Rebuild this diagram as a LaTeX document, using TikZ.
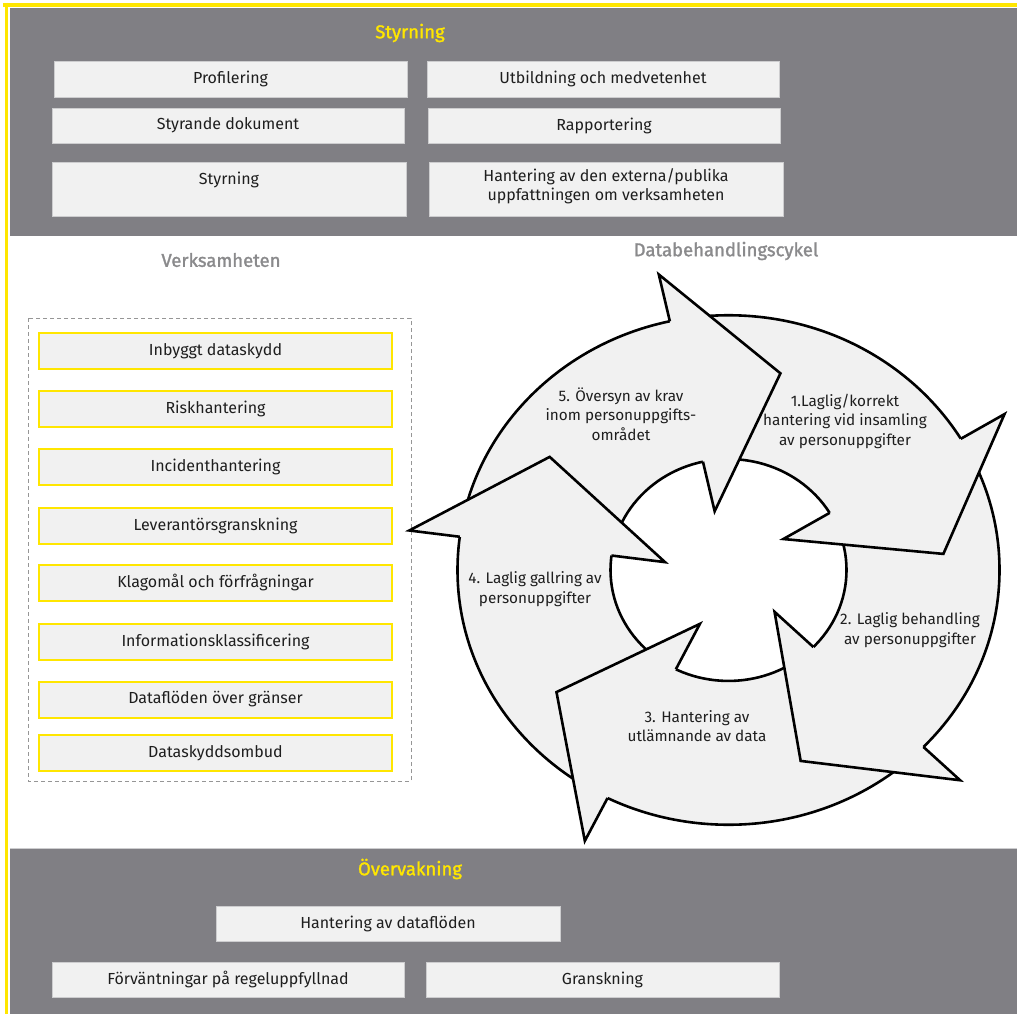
\documentclass[tikz,border=0pt]{standalone}
\usepackage{fontspec}
\setmainfont{Fira Sans}
\definecolor{bandgray}{RGB}{128,127,132}
\definecolor{boxfill}{RGB}{241,241,241}
\definecolor{boxborder}{RGB}{205,205,207}
\definecolor{eyyellow}{RGB}{255,230,0}
\definecolor{txt}{RGB}{30,30,30}
\definecolor{subtitle}{RGB}{138,138,140}
\definecolor{dashgray}{RGB}{150,150,150}
\begin{document}
\begin{tikzpicture}[x=1pt,y=-1pt,
  box/.style={draw=boxborder, line width=0.8pt, fill=boxfill, text=txt,
    font=\fontsize{16}{19}\selectfont, inner sep=0pt, minimum height=36pt},
  ybox/.style={draw=eyyellow, line width=2pt, fill=boxfill, text=txt,
    font=\fontsize{16}{19}\selectfont, inner sep=0pt, minimum width=353pt, minimum height=36pt},
  btext/.style={text=txt, font=\fontsize{16}{19}\selectfont, inner sep=0pt, align=center},
  ytitle/.style={text=eyyellow, font=\fontsize{18.5}{22}\selectfont\addfontfeatures{FakeBold=1.5}, inner sep=0pt},
  gtitle/.style={text=subtitle, font=\fontsize{18.5}{22}\selectfont\addfontfeatures{FakeBold=1.5}, inner sep=0pt},
  ctext/.style={text=txt, font=\fontsize{15.3}{19.5}\selectfont, inner sep=0pt, align=center},
  ringline/.style={draw=black, line width=2.6pt, line join=miter},
]
\useasboundingbox (0,0) rectangle (1017,1014);
\fill[white] (0,0) rectangle (1017,1014);
% bands
\fill[bandgray] (10,8) rectangle (1017,236);
\fill[bandgray] (10,848) rectangle (1017,1014);
\draw[boxborder, line width=0.8pt] (10,848.4) -- (1017,848.4);
% yellow frame
\draw[eyyellow, line width=4pt] (3,5) -- (1017,5);
\draw[eyyellow, line width=3.4pt] (6.4,3) -- (6.4,1014);

% Styrning
\node[ytitle] (tstyr) at (410,33) {Styrning};
\node[box, minimum width=353pt] (prof) at (230.5,79) {Profilering};
\node[box, minimum width=352pt, minimum height=35pt] (sdok) at (228,125.5) {Styrande dokument};
\node[box, minimum width=354pt, minimum height=54pt] (sbox) at (229,189) {};
\node[btext] (stxt) at (229,180) {Styrning};
\node[box, minimum width=352pt] (utb) at (603,79) {Utbildning och medvetenhet};
\node[box, minimum width=352pt, minimum height=35pt] (rapp) at (604,125.5) {Rapportering};
\node[box, minimum width=354pt, minimum height=54pt] (hbox) at (606,189) {};
\node[btext, font=\fontsize{16}{18.5}\selectfont] (htxt) at (606,186) {Hantering av den externa/publika\\uppfattningen om verksamheten};

% Verksamheten
\node[gtitle] (tverk) at (221,260) {Verksamheten};
\node[gtitle] (tcyk) at (726,251) {Databehandlingscykel};
\draw[dashgray, line width=0.9pt, dash pattern=on 4pt off 3pt] (28,318) rectangle (411,781);
\node[ybox] (v1) at (215.5,351) {Inbyggt dataskydd};
\node[ybox] (v2) at (215.5,409) {Riskhantering};
\node[ybox] (v3) at (215.5,467) {Incidenthantering};
\node[ybox] (v4) at (215.5,525.5) {Leverantörsgranskning};
\node[ybox] (v5) at (215.5,583) {Klagomål och förfrågningar};
\node[ybox] (v6) at (215.5,642) {Informationsklassificering};
\node[ybox] (v7) at (215.5,699.5) {Dataflöden över gränser};
\node[ybox] (v8) at (215.5,753) {Dataskyddsombud};

% cycle
\begin{scope}[shift={(728.5,570)}, yscale=-0.94]
  \fill[boxfill, even odd rule] (0,0) circle (271) (0,0) circle (118);
  \draw[ringline] (0,0) circle (271);
  \draw[ringline] (0,0) circle (118);
  \foreach \a in {31,102.5,172.5,243.5,316}{
    \fill[boxfill] (\a:322) -- (\a-26.44:215.56) -- (\a:64) -- cycle;
    \draw[ringline] (\a:271) -- (\a:322) -- (\a-26.44:215.56) -- (\a:64) -- (\a:118);
  }
\end{scope}
\node[ctext] (c1) at (845,421) {1.Laglig/korrekt\\hantering vid insamling\\av personuppgifter};
\node[ctext] (c2) at (910,630) {2. Laglig behandling\\av personuppgifter};
\node[ctext] (c3) at (697,726) {3. Hantering av\\utlämnande av data};
\node[ctext] (c4) at (535,589) {4. Laglig gallring av\\personuppgifter};
\node[ctext] (c5) at (621,414) {5. Översyn av krav\\inom personuppgifts-\\området};

% Overvakning
\node[ytitle] (tover) at (410,869) {Övervakning};
\node[box, minimum width=344pt, minimum height=35pt] (hdf) at (388,923.5) {Hantering av dataflöden};
\node[box, minimum width=352pt, minimum height=35pt] (forv) at (228,979.5) {Förväntningar på regeluppfyllnad};
\node[box, minimum width=353pt, minimum height=35pt] (gran) at (602.5,979.5) {Granskning};
\end{tikzpicture}
\end{document}
